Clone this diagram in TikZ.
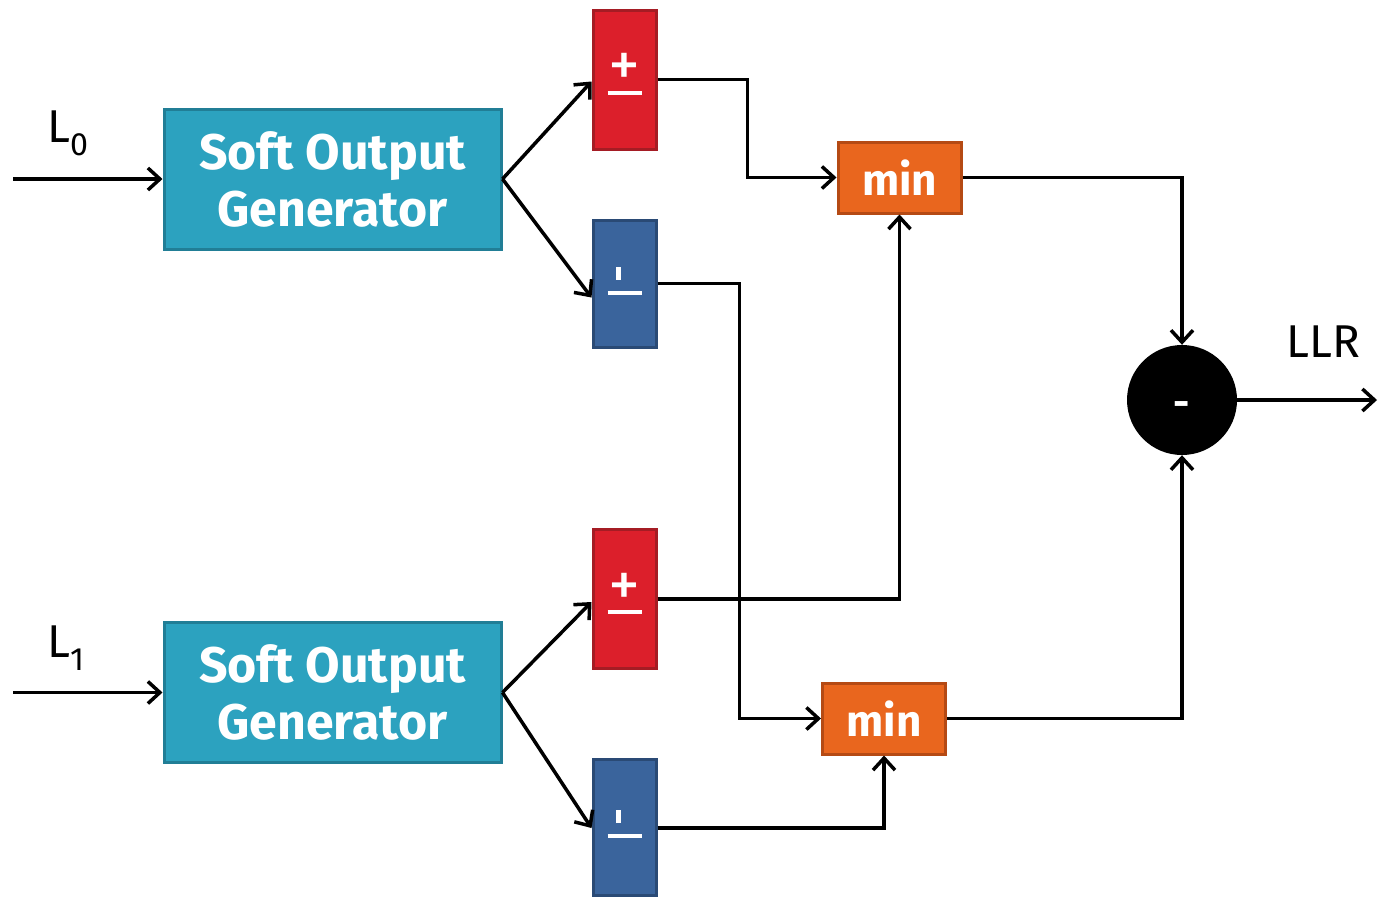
\documentclass[tikz,border=0pt]{standalone}
\usepackage{fontspec}
\setmainfont{Fira Sans}
\usetikzlibrary{arrows.meta}
\definecolor{teal0}{HTML}{2CA2BF}
\definecolor{teal1}{HTML}{217E96}
\definecolor{red0}{HTML}{DC1F2B}
\definecolor{red1}{HTML}{A51C24}
\definecolor{blue0}{HTML}{3A649C}
\definecolor{blue1}{HTML}{2A4A75}
\definecolor{org0}{HTML}{E9661E}
\definecolor{org1}{HTML}{B54A14}
\begin{document}
\begin{tikzpicture}[x=1pt,y=-1pt,
  sog/.style={draw=teal1,fill=teal0,line width=3pt,minimum width=337pt,minimum height=140pt,
    text=white,align=center,font=\bfseries\fontsize{50}{57}\selectfont,inner sep=0pt},
  pbox/.style={draw=red1,fill=red0,line width=3pt,minimum width=63pt,minimum height=139pt,
    text=white,align=center,inner sep=0pt},
  mbox/.style={draw=blue1,fill=blue0,line width=3pt,minimum width=63pt,minimum height=128pt,
    text=white,align=center,inner sep=0pt},
  minbox/.style={draw=org1,fill=org0,line width=3pt,minimum width=123pt,minimum height=71pt,
    text=white,font=\bfseries\fontsize{44}{44}\selectfont,inner sep=0pt},
  arr/.style={line width=3.5pt,-{Straight Barb[length=12pt,width=22pt,line width=3.5pt]}},
  lbl/.style={font=\fontsize{46}{46}\selectfont,inner sep=0pt}]
\useasboundingbox (0,0) rectangle (1378,897);
\newcommand{\plusmark}{{\fontsize{64}{64}\selectfont\raisebox{-22pt}[0pt][0pt]{+}}\\[18pt]\rule{34pt}{4pt}}
\newcommand{\minusmark}{\hspace*{-12pt}\rule{4.5pt}{13pt}\\[3pt]\rule{34pt}{4pt}\\[-6pt]}
% generators
\node[sog] (sog0) at (332.5,179) {Soft Output\\Generator};
\node[sog] (sog1) at (332.5,692.5) {Soft Output\\Generator};
% sign boxes
\node[pbox] (p0) at (624.5,79.5) {\plusmark};
\node[mbox,minimum height=127pt] (m0) at (624.5,283.5) {\minusmark};
\node[pbox] (p1) at (624.5,599) {\plusmark};
\node[mbox,minimum height=136pt] (m1) at (624.5,827) {\minusmark};
% min boxes
\node[minbox] (min0) at (899.5,177.5) {min};
\node[minbox] (min1) at (884,718.5) {min};
% subtractor
\node[circle,fill=black,minimum size=110pt,inner sep=0pt,text=white,font=\bfseries\fontsize{40}{40}\selectfont] (sub) at (1182,400) {\raisebox{-16pt}[0pt][0pt]{-}};
% labels
\node[lbl] (l0) at (68,133) {L\textsubscript{0}};
\node[lbl] (l1) at (66,648) {L\textsubscript{1}};
\node[lbl] (llr) at (1323,342) {LLR};
% inputs
\coordinate (in0) at (13,179);
\coordinate (in1) at (13,692.5);
\coordinate (out) at (1377,400);
\draw[arr] (in0) -- (sog0.west);
\draw[arr] (in1) -- (sog1.west);
% fan out
\draw[arr] (sog0.east) -- ([yshift=-2pt]p0.west);
\draw[arr] (sog0.east) -- ([yshift=-14pt]m0.west);
\draw[arr] (sog1.east) -- ([yshift=-3pt]p1.west);
\draw[arr] (sog1.east) -- ([yshift=-1pt]m1.west);
% to min
\draw[arr] (p0.east) -- ++(90,0) |- (min0.west);
\draw[arr] (m0.east) -- ++(82,0) |- (min1.west);
\draw[arr] (p1.east) -| (min0.south);
\draw[arr] ([yshift=-1pt]m1.east) -| (min1.south);
% to subtractor
\draw[arr] (min0.east) -| (sub.north);
\draw[arr] (min1.east) -| (sub.south);
\draw[arr] (sub.east) -- (out);
\end{tikzpicture}
\end{document}
